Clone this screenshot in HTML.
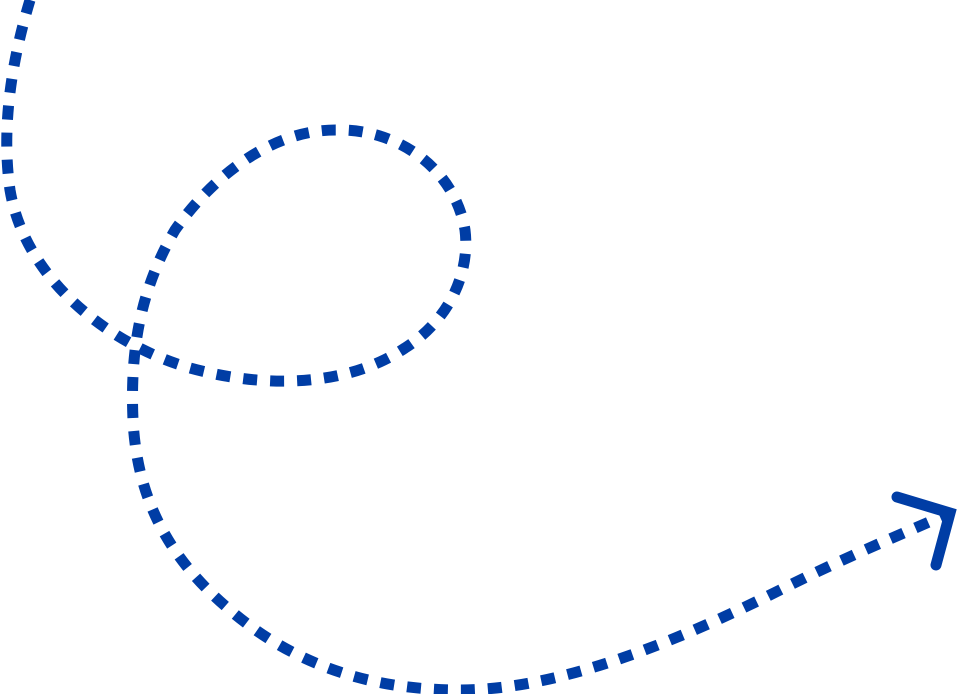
<!DOCTYPE html>
<html>
<head>
<meta charset="utf-8">
<style>
html,body{margin:0;padding:0;background:#fff;width:957px;height:694px;overflow:hidden;}
svg{display:block;}
</style>
</head>
<body>
<svg width="957" height="694" viewBox="0 0 957 694" xmlns="http://www.w3.org/2000/svg">
<path d="M30,0 C15,50 0,120 10,190 C25,280 110,345 190,368 C270,390 350,385 405,348 C452,318 470,270 465,230 C455,170 400,130 340,130 C270,128 210,180 175,230 C140,290 130,350 133,420 C137,500 170,560 230,610 C300,670 380,690 460,690 C560,690 680,640 780,590 C850,555 900,535 945,515"
 fill="none" stroke="#003da5" stroke-width="11" stroke-dasharray="14 13"/>
<polyline points="897,497 950,513 936,565" fill="none" stroke="#003da5" stroke-width="11" stroke-linecap="round" stroke-linejoin="miter"/>
</svg>
</body>
</html>
